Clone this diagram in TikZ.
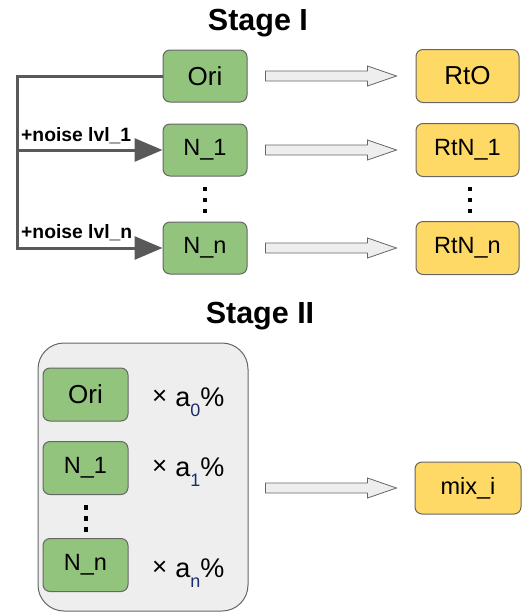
\documentclass[tikz,border=0pt]{standalone}
\usepackage{fontspec}
\setmainfont{Liberation Sans}
\usetikzlibrary{arrows.meta,calc}

\definecolor{boxgreen}{HTML}{93C47D}
\definecolor{boxyellow}{HTML}{FFD966}
\definecolor{edgegray}{HTML}{666666}
\definecolor{linedark}{HTML}{595959}
\definecolor{panelgray}{HTML}{EEEEEE}
\definecolor{subnavy}{HTML}{1C2B6B}

\tikzset{
  greenbox/.style={draw=edgegray, line width=1pt, fill=boxgreen, rounded corners=7pt,
    minimum width=84pt, minimum height=52pt, inner sep=0pt,
    font=\fontsize{23.5}{23.5}\selectfont},
  yellowbox/.style={draw=edgegray, line width=1pt, fill=boxyellow, rounded corners=7pt,
    minimum width=103pt, minimum height=53pt, inner sep=0pt,
    font=\fontsize{23.5}{23.5}\selectfont},
  bigtext/.style={font=\fontsize{26}{26}\selectfont},
  feed/.style={draw=linedark, line width=3pt},
  noiselabel/.style={anchor=base west, inner sep=0pt,
    font=\bfseries\fontsize{19.3}{19.3}\selectfont},
  stagetitle/.style={font=\bfseries\fontsize{30.5}{30.5}\selectfont, inner sep=0pt},
  hollow/.style={draw=edgegray, line width=0.8pt, fill=panelgray, line join=miter},
  weight/.style={anchor=base west, inner sep=0pt, font=\fontsize{27}{27}\selectfont},
}

% wide hollow arrow from coordinate #1 to coordinate #2 (horizontal)
\newcommand\hollowarrow[2]{%
  \draw[hollow] let \p1=(#1), \p2=(#2) in
    (\x1,\y1+5pt) -- (\x2-29pt,\y1+5pt) -- (\x2-29pt,\y1+10pt) -- (\x2,\y1)
    -- (\x2-29pt,\y1-10pt) -- (\x2-29pt,\y1-5pt) -- (\x1,\y1-5pt) -- cycle;}

% three stacked dots centred at #1
\newcommand\vdotsat[1]{%
  \foreach \dy in {-11,0,11}{\fill ($(#1)+(0,\dy)$) rectangle ++(4.5,4.5);}}

% mixing weight: times sign, a, lowered subscript, percent
\newcommand\mixweight[1]{%
  {\fontsize{26}{26}\selectfont\raisebox{2pt}{×}}\hspace{8pt}a%
  \raisebox{-10pt}{\fontsize{18}{18}\selectfont\color{subnavy}#1}\%}

\begin{document}
\begin{tikzpicture}[x=1pt,y=-1pt]
  \useasboundingbox (0,0) rectangle (524,614);

  % ---------- Stage I ----------
  \node[stagetitle] (t1) at (258,23) {Stage I};

  \node[greenbox, bigtext] (ori) at (205,76) {Ori};
  \node[greenbox] (n1)  at (205,150) {N\_1};
  \node[greenbox] (nn)  at (205,248) {N\_n};

  \node[yellowbox, bigtext] (rto)  at (467.5,76)  {RtO};
  \node[yellowbox] (rtn1) at (467.5,150) {RtN\_1};
  \node[yellowbox] (rtnn) at (467.5,248) {RtN\_n};

  \coordinate (d1) at (202.5,197.5);
  \coordinate (d2) at (467.5,197.5);
  \vdotsat{d1}
  \vdotsat{d2}

  % noise injection lines
  \coordinate (top) at (17,76);
  \coordinate (b1) at (17,150);
  \coordinate (bn) at (17,248);
  \draw[feed, line join=miter] (ori.west) -- (top) -- ($(bn)+(0,1.5)$);
  \draw[feed, -{Triangle[length=28pt,width=23pt]}] (b1) -- (n1.west);
  \draw[feed, -{Triangle[length=28pt,width=23pt]}] (bn) -- (nn.west);
  \node[noiselabel] (l1) at (21,141) {+noise lvl\_1};
  \node[noiselabel] (ln) at (21,238) {+noise lvl\_n};

  % reconstruction arrows
  \foreach \a/\b in {ori/rto, n1/rtn1, nn/rtnn}{
    \coordinate (s\a) at ($(\a.east)+(18,0)$);
    \coordinate (e\a) at ($(\b.west)+(-19,0)$);
    \hollowarrow{s\a}{e\a}
  }

  % ---------- Stage II ----------
  \node[stagetitle] (t2) at (260,316) {Stage II};

  \node[draw=edgegray, line width=1pt, fill=panelgray, rounded corners=26pt,
        minimum width=210pt, minimum height=268pt, inner sep=0pt] (pool) at (143,477) {};

  \node[greenbox, bigtext, minimum width=85pt, minimum height=53pt] (ori2) at (85.5,394.5) {Ori};
  \node[greenbox, minimum width=85pt, minimum height=53pt] (n12)  at (85.5,468) {N\_1};
  \node[greenbox, minimum width=85pt, minimum height=53pt] (nn2)  at (85.5,565) {N\_n};
  \coordinate (d3) at (83.5,516);
  \vdotsat{d3}

  \node[weight] (w0) at (152,406) {\mixweight{0}};
  \node[weight] (w1) at (152,476) {\mixweight{1}};
  \node[weight] (wn) at (152,577) {\mixweight{n}};

  \node[yellowbox, minimum width=106pt, minimum height=52pt] (mix) at (468,488) {mix\_i};
  \coordinate (smix) at ($(pool.east |- mix.west)+(17,0)$);
  \coordinate (emix) at ($(mix.west)+(-18,0)$);
  \hollowarrow{smix}{emix}
\end{tikzpicture}
\end{document}
